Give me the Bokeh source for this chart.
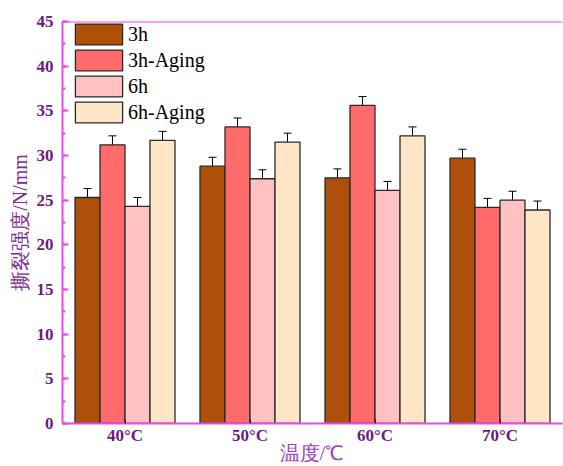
from bokeh.plotting import figure
from bokeh.models import ColumnDataSource, Whisker, Span, TeeHead, SingleIntervalTicker
from bokeh.transform import dodge
from bokeh.embed import file_html
from bokeh.resources import INLINE

categories = ["40°C", "50°C", "60°C", "70°C"]
series = ["3h", "3h-Aging", "6h", "6h-Aging"]
v_3h = [25.3, 28.8, 27.5, 29.7]
v_3h_aging = [31.2, 33.2, 35.6, 24.2]
v_6h = [24.3, 27.4, 26.1, 25.0]
v_6h_aging = [31.7, 31.5, 32.2, 23.9]
err_3h = [1.0, 1.0, 1.0, 1.0]
err_3h_aging = [1.0, 1.0, 1.0, 1.0]
err_6h = [1.0, 1.0, 1.0, 1.0]
err_6h_aging = [1.0, 1.0, 1.0, 1.0]
y_title = "撕裂强度/N/mm"
x_title = "温度/℃"

colors = ["#AE500A", "#FF6A6A", "#FFC1C1", "#FFE6C6"]
offsets = [-0.3, -0.1, 0.1, 0.3]
values = [v_3h, v_3h_aging, v_6h, v_6h_aging]
errors = [err_3h, err_3h_aging, err_6h, err_6h_aging]

AXIS = "#EE44F4"
TICKLAB = "#6E1A80"

p = figure(width=563, height=466, x_range=categories, y_range=(0, 45),
           output_backend="svg", toolbar_location=None,
           min_border_left=62, min_border_right=1, min_border_top=21, min_border_bottom=42)
p.outline_line_color = None
p.grid.visible = False
p.background_fill_color = "white"

for name, vals, errs, col, off in zip(series, values, errors, colors, offsets):
    src = ColumnDataSource(dict(x=categories, y=vals,
                                upper=[v + e for v, e in zip(vals, errs)],
                                lower=[v - e for v, e in zip(vals, errs)]))
    p.vbar(x=dodge("x", off, range=p.x_range), top="y", width=0.2, source=src,
           fill_color=col, line_color="#2a2a2a", line_width=1.3, legend_label=name)
    w = Whisker(base=dodge("x", off, range=p.x_range), upper="upper", lower="lower",
                source=src, line_color="black", line_width=1,
                upper_head=TeeHead(size=8, line_color="black", line_width=1),
                lower_head=TeeHead(size=8, line_color="black", line_width=1))
    p.add_layout(w)

p.add_layout(Span(location=45, dimension="width", line_color=AXIS, line_width=2))

# y axis
p.yaxis.ticker = SingleIntervalTicker(interval=5, num_minor_ticks=2)
p.yaxis.axis_line_color = AXIS
p.yaxis.axis_line_width = 2
p.yaxis.major_tick_line_color = AXIS
p.yaxis.minor_tick_line_color = AXIS
p.yaxis.major_tick_line_width = 2
p.yaxis.minor_tick_line_width = 2
p.yaxis.major_tick_in = 6
p.yaxis.major_tick_out = 0
p.yaxis.minor_tick_in = 3
p.yaxis.minor_tick_out = 0
p.yaxis.major_label_text_font = "Liberation Serif"
p.yaxis.major_label_text_font_style = "bold"
p.yaxis.major_label_text_font_size = "17px"
p.yaxis.major_label_text_color = TICKLAB
p.yaxis.major_label_standoff = 9
p.yaxis.axis_label = y_title
p.yaxis.axis_label_text_font = "Liberation Serif"
p.yaxis.axis_label_text_font_style = "normal"
p.yaxis.axis_label_text_font_size = "20px"
p.yaxis.axis_label_text_color = "#7E2A90"
p.yaxis.axis_label_standoff = 3

# x axis
p.xaxis.axis_line_color = AXIS
p.xaxis.axis_line_width = 2
p.xaxis.major_tick_line_color = "#222222"
p.xaxis.major_tick_in = 4
p.xaxis.major_tick_out = 0
p.xaxis.major_label_text_font = "Liberation Serif"
p.xaxis.major_label_text_font_style = "bold"
p.xaxis.major_label_text_font_size = "17px"
p.xaxis.major_label_text_color = TICKLAB
p.xaxis.major_label_text_line_height = 1.0
p.xaxis.major_label_standoff = 2
p.xaxis.axis_label = x_title
p.xaxis.axis_label_text_font = "Liberation Serif"
p.xaxis.axis_label_text_font_style = "normal"
p.xaxis.axis_label_text_font_size = "20px"
p.xaxis.axis_label_text_color = "#A23BC4"
p.xaxis.axis_label_text_line_height = 1.0
p.xaxis.axis_label_standoff = -6

# legend
lg = p.legend[0]
lg.location = (7, 298)
lg.margin = 0
lg.padding = 0
lg.spacing = 0
lg.glyph_width = 59
lg.glyph_height = 26
lg.label_height = 26
lg.label_standoff = 0
lg.label_text_font = "Liberation Serif"
lg.label_text_font_size = "20px"
lg.label_text_color = "black"
lg.border_line_color = None
lg.background_fill_alpha = 0

open("out.html", "w").write(file_html(p, INLINE))
